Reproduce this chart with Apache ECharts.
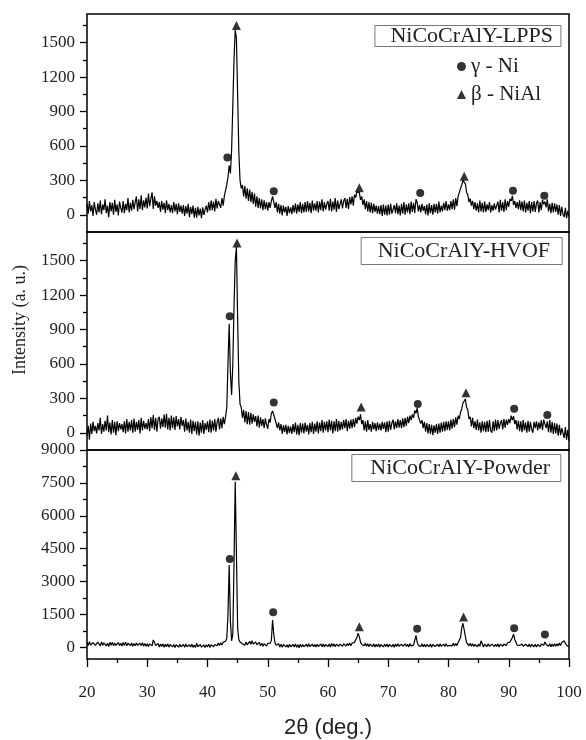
<!DOCTYPE html>
<html>
<head>
<meta charset="utf-8">
<script src="https://cdn.jsdelivr.net/npm/echarts@6/dist/echarts.min.js"></script>
<style>
  html, body { margin: 0; padding: 0; background: #fff; }
  #xrdChart { width: 586px; height: 740px; }
</style>
</head>
<body>
<div id="xrdChart"></div>
<script>
// 2theta grid of the scans: 20..100 deg, one reading every 0.2 deg
const thetaStart = 20
const thetaStep = 0.2

const panelNames = ['NiCoCrAlY-LPPS', 'NiCoCrAlY-HVOF', 'NiCoCrAlY-Powder']
const phaseNames = ['γ - Ni', 'β - NiAl']

const lppsCounts = [
  95, 10, 120, 30, 85, -10, 110, 45, 0, 100,
  20, 125, 5, 90, 40, 135, 15, 80, -20, 110,
  30, 105, 0, 130, 25, 90, -5, 115, 60, 20,
  120, 15, 95, 40, 145, 20, 105, 35, 130, 50,
  110, 160, 30, 135, 50, 170, 40, 125, 65, 150,
  55, 185, 75, 140, 195, 50, 160, 80, 120, 60,
  110, 25, 120, 45, 105, 15, 125, 40, 95, 20,
  85, 15, 110, 30, 95, 5, 100, 25, 80, 10,
  85, -10, 75, 10, 95, -20, 70, 5, 80, -25,
  60, -25, 70, -5, 55, -30, 65, 0, 45, 80,
  20, 110, 35, 125, 40, 115, 30, 140, 55, 120,
  130, 60, 145, 80, 165, 180, 260, 330, 430, 360,
  560, 950, 1350, 1610, 1540, 1050, 550, 300, 230, 260,
  160, 250, 140, 230, 120, 220, 110, 200, 95, 185,
  70, 160, 60, 145, 55, 135, 40, 125, 50, 110,
  35, 110, 60, 120, 160, 175, 60, 110, 20, 95,
  10, 85, -5, 80, 20, 70, -10, 75, 15, 65,
  5, 85, 20, 100, 10, 90, 25, 110, 15, 95,
  20, 110, 25, 120, 30, 105, 15, 125, 35, 100,
  35, 120, 20, 115, 40, 135, 30, 110, 45, 95,
  120, 35, 140, 30, 115, 45, 145, 25, 125, 50,
  40, 135, 55, 120, 145, 60, 140, 50, 155, 90,
  160, 80, 175, 150, 200, 185, 195, 130, 160, 85,
  135, 50, 120, 30, 110, 20, 105, 15, 95, 25,
  80, 10, 75, 5, 85, -10, 90, 0, 80, -5,
  90, 0, 95, 10, -5, 85, 15, 100, 5, 80,
  -5, 95, 10, 110, 0, 90, 20, 100, 5, 115,
  25, 105, 15, 135, 110, 30, 85, 20, 95, 35,
  75, 5, 90, -5, 100, 15, 85, 0, 95, 20,
  95, 10, 115, 20, 80, 30, 105, 40, 120, 35,
  90, 40, 120, 50, 135, 45, 145, 75, 160, 150,
  230, 260, 300, 295, 270, 195, 175, 110, 140, 80,
  120, 50, 110, 35, 100, 20, 125, 30, 105, 20,
  115, 25, 90, 40, 110, 20, 85, 35, 100, 45,
  30, 115, 20, 130, 35, 110, 25, 135, 40, 120,
  70, 140, 120, 165, 85, 120, 60, 110, 50, 125,
  40, 115, 30, 125, 20, 105, 35, 120, 15, 110,
  30, 120, 25, 100, 125, 20, 110, 40, 130, 90,
  115, 65, 135, 30, 95, 15, 105, 20, 100, 25,
  90, 0, 85, -10, 70, 5, -20, 60, -30, 35,
  -15
]

const hvofCounts = [
  -30, 60, -60, 80, -10, 95, 15, 60, -5, 85,
  20, 130, -10, 75, 10, 105, 20, 150, 5, 90,
  -15, 110, 0, 95, -20, 100, 15, 85, 30, 75,
  5, 100, -5, 120, 10, 95, 20, 110, 0, 125,
  10, 95, 25, 110, -5, 130, 20, 105, 35, 85,
  30, 120, 15, 135, 40, 155, 25, 130, 10, 120,
  140, 35, 125, 50, 160, 45, 165, 30, 130, 20,
  150, 40, 135, 25, 145, 55, 120, 30, 140, 60,
  110, 10, 125, 20, 95, 0, 115, -10, 105, 15,
  95, -15, 100, -25, 90, 0, 110, -10, 85, 25,
  100, 5, 115, 0, 105, 20, 120, 10, 95, 130,
  30, 125, 40, 140, 75, 140, 220, 600, 950, 520,
  330, 600, 1100, 1500, 1620, 1000, 450, 250, 220, 130,
  200, 90, 190, 75, 180, 70, 175, 80, 160, 95,
  145, 55, 150, 45, 135, 60, 120, 40, 125, 70,
  35, 120, 90, 170, 190, 205, 120, 120, 40, 90,
  20, 75, -10, 65, 5, 70, -15, 60, 0, 55,
  -10, 75, 5, 90, -15, 70, -20, 85, 0, 80,
  -5, 90, 10, 70, -15, 85, 5, 95, -10, 80,
  10, 100, -5, 90, 15, 110, 0, 95, 20, 100,
  5, 115, 20, 105, -5, 100, 15, 120, 10, 105,
  20, 95, 30, 110, 40, 120, 15, 105, 35, 115,
  40, 120, 50, 130, 80, 140, 110, 160, 75, 110,
  20, 100, 10, 110, 25, 75, 10, 95, 30, 85,
  15, 90, 25, 80, 20, 95, 35, 90, 5, 100,
  10, 105, 25, 85, 115, 30, 100, 40, 120, 45,
  110, 40, 125, 50, 130, 60, 140, 85, 150, 110,
  160, 130, 195, 170, 215, 140, 150, 80, 110, 40,
  95, 10, 85, -5, 75, -10, 70, -20, 65, 0,
  75, -10, 80, 0, 90, 10, 95, 15, 100, 25,
  100, 20, 115, 35, 120, 50, 135, 70, 150, 120,
  180, 210, 260, 250, 295, 220, 200, 120, 140, 55,
  130, 40, 100, 25, 115, 20, 90, 0, 100, 15,
  95, 5, 105, 10, 110, 20, 0, 100, 15, 115,
  20, 110, 35, 85, 110, 30, 120, 45, 115, 70,
  120, 85, 150, 110, 145, 75, 110, 30, 105, 15,
  100, 5, 110, 20, 90, 0, 105, 10, 95, 30,
  0, 95, 40, 100, 20, 90, 35, 110, 25, 115,
  125, 40, 100, 5, 110, 0, 95, -10, 85, -5,
  80, -25, 70, -20, 40, 55, -45, 50, -60, 25,
  -70
]

const powderCounts = [
  230, 80, 260, 110, 50, 220, 270, 90, 60, 240,
  200, 60, 250, 90, 210, 280, 70, 190, 40, 230,
  100, 240, 70, 200, 90, 30, 220, 80, 190, 60,
  220, 90, 240, 70, 190, 230, 80, 200, 50, 180,
  70, 200, 90, 40, 190, 80, 210, 60, 180, 50,
  170, 40, 160, 200, 70, 340, 230, 80, 50, 180,
  20, 150, 40, 170, 0, 140, 30, 160, 10, 130,
  150, 20, 130, -10, 120, 160, 10, 140, 30, 0,
  130, 10, 150, 30, -20, 120, 20, 140, 0, 110,
  -10, 190, 20, -20, 130, 10, -40, 110, 0, 120,
  20, 140, 0, 120, 160, 30, 130, 180, 70, 200,
  90, 210, 110, 240, 190, 280, 420, 1500, 3750, 1200,
  300, 600, 3800, 7550, 4300, 900, 350, 250, 200, 170,
  230, 100, 250, 110, 170, 270, 140, 300, 150, 200,
  250, 120, 180, 230, 70, 190, 50, 170, 200, 60,
  180, 140, 190, 320, 1250, 600, 200, 100, 60, 170,
  20, 140, 0, 130, 160, 20, 120, -10, 140, 30,
  0, 130, 20, 150, 10, 120, -20, 140, 20, 130,
  30, 0, 140, 20, 170, 40, 10, 150, 30, 130,
  20, 140, 40, 0, 150, 30, 160, 20, 130, 170,
  40, 150, 20, 180, 50, 160, 30, 140, 170, 50,
  150, 190, 50, 170, 210, 60, 180, 80, 200, 70,
  190, 140, 240, 220, 450, 650, 480, 240, 130, 190,
  70, 190, 50, 170, 30, 150, 180, 40, 160, 20,
  140, 30, 160, 10, 130, 170, 20, 140, 40, 150,
  20, 130, 160, 30, 140, 10, 150, 40, 170, 50,
  30, 150, 50, 10, 160, 40, 140, 20, 170, 70,
  130, 100, 180, 550, 240, 90, 150, 40, 160, 30,
  140, 20, 130, 170, 30, 150, 10, 130, 160, 40,
  20, 140, 30, 160, 50, 10, 150, 40, 170, 60,
  130, 90, 170, 70, 190, 60, 180, 80, 220, 240,
  450, 900, 1100, 1080, 500, 220, 190, 70, 190, 50,
  160, 40, 140, 180, 30, 150, 50, 300, 170, 20,
  140, 180, 40, 160, 50, 20, 150, 170, 30, 140,
  40, 160, 20, 140, 170, 50, 150, 190, 80, 210,
  120, 240, 280, 450, 600, 350, 240, 100, 150, 90,
  30, 150, 50, 10, 140, 170, 40, 150, 20, 130,
  160, 30, 140, 20, 130, 170, 40, 150, 190, 100,
  250, 130, 160, 50, 170, 30, 150, 40, 160, 50,
  170, 60, 200, 80, 220, 240, 300, 180, 190, 40,
  60
]

// peak markers (position, height of the symbol)
const lppsNiTheta = [43.3, 51.0, 75.3, 90.7, 95.9]
const lppsNiMark = [500, 205, 190, 210, 165]
const lppsAlTheta = [44.8, 65.2, 82.6]
const lppsAlMark = [1650, 235, 335]

const hvofNiTheta = [43.7, 51.0, 74.9, 90.9, 96.4]
const hvofNiMark = [1015, 265, 250, 210, 155]
const hvofAlTheta = [44.9, 65.5, 82.9]
const hvofAlMark = [1655, 225, 350]

const powderNiTheta = [43.7, 50.9, 74.8, 90.9, 96.0]
const powderNiMark = [4030, 1600, 845, 870, 585]
const powderAlTheta = [44.7, 65.2, 82.5]
const powderAlMark = [7830, 945, 1380]

// y ticks of each panel
const lowMajorTicks = [0, 300, 600, 900, 1200, 1500]
const lowMinorTicks = [150, 450, 750, 1050, 1350, 1650]
const powderMajorTicks = [0, 1500, 3000, 4500, 6000, 7500, 9000]
const powderMinorTicks = [750, 2250, 3750, 5250, 6750, 8250]

const serif = 'Liberation Serif'
const inkColor = '#000'
const labelColor = '#222'

function toPoints (counts) {
  return counts.map((v, i) => [+(thetaStart + i * thetaStep).toFixed(1), v])
}

function pairUp (thetas, marks) {
  return thetas.map((t, i) => [t, marks[i]])
}

const panels = [
  { top: 14, height: 218, min: -150, max: 1750, major: lowMajorTicks, minor: lowMinorTicks,
    counts: lppsCounts, ni: pairUp(lppsNiTheta, lppsNiMark), al: pairUp(lppsAlTheta, lppsAlMark) },
  { top: 232, height: 218, min: -150, max: 1750, major: lowMajorTicks, minor: lowMinorTicks,
    counts: hvofCounts, ni: pairUp(hvofNiTheta, hvofNiMark), al: pairUp(hvofAlTheta, hvofAlMark) },
  { top: 450, height: 219, min: -530, max: 9000, major: powderMajorTicks, minor: powderMinorTicks,
    counts: powderCounts, ni: pairUp(powderNiTheta, powderNiMark), al: pairUp(powderAlTheta, powderAlMark) }
]

const grid = []
const xAxis = []
const yAxis = []
const series = []

panels.forEach((p, k) => {
  const isBottom = k === panels.length - 1
  grid.push({
    left: 87,
    right: 17,
    top: p.top,
    height: p.height,
    show: true,
    borderColor: inkColor,
    borderWidth: 1.5
  })
  xAxis.push({
    type: 'value',
    gridIndex: k,
    min: 20,
    max: 100,
    interval: 10,
    name: isBottom ? '2θ (deg.)' : '',
    nameLocation: 'middle',
    nameGap: 58,
    nameTextStyle: { fontFamily: 'Liberation Sans', fontSize: 22, color: labelColor },
    axisLine: { show: false, onZero: false },
    axisTick: { show: isBottom, inside: false, length: 8, lineStyle: { color: inkColor, width: 1.3 } },
    minorTick: { show: isBottom, splitNumber: 2, length: 4, lineStyle: { color: inkColor, width: 1.3 } },
    axisLabel: { show: isBottom, margin: 25, fontFamily: serif, fontSize: 17, color: labelColor },
    splitLine: { show: false }
  })
  // labelled major ticks
  yAxis.push({
    type: 'value',
    gridIndex: k,
    position: 'left',
    min: p.min,
    max: p.max,
    axisLine: { show: false, onZero: false },
    axisTick: { show: true, length: 7, customValues: p.major, lineStyle: { color: inkColor, width: 1.3 } },
    axisLabel: {
      show: true,
      margin: 12,
      customValues: p.major,
      formatter: v => String(v),
      fontFamily: serif,
      fontSize: 17,
      color: labelColor
    },
    splitLine: { show: false }
  })
  // short minor ticks
  yAxis.push({
    type: 'value',
    gridIndex: k,
    position: 'left',
    min: p.min,
    max: p.max,
    axisLine: { show: false, onZero: false },
    axisTick: { show: true, length: 4, customValues: p.minor, lineStyle: { color: inkColor, width: 1.3 } },
    axisLabel: { show: false },
    splitLine: { show: false }
  })
  series.push({
    type: 'line',
    xAxisIndex: k,
    yAxisIndex: k * 2,
    data: toPoints(p.counts),
    showSymbol: false,
    silent: true,
    lineStyle: { color: inkColor, width: 1.2 },
    z: 2
  })
  series.push({
    type: 'scatter',
    name: phaseNames[0],
    xAxisIndex: k,
    yAxisIndex: k * 2,
    data: p.ni,
    symbol: 'circle',
    symbolSize: 8,
    itemStyle: { color: inkColor },
    z: 3
  })
  series.push({
    type: 'scatter',
    name: phaseNames[1],
    xAxisIndex: k,
    yAxisIndex: k * 2,
    data: p.al,
    symbol: 'triangle',
    symbolSize: 9,
    itemStyle: { color: inkColor },
    z: 3
  })
})

const boxStyle = {
  borderColor: '#777',
  borderWidth: 1,
  backgroundColor: '#fff',
  textStyle: { fontFamily: serif, fontSize: 22, fontWeight: 'normal', color: labelColor }
}

const chart = echarts.init(document.getElementById('xrdChart'))

chart.setOption({
  animation: false,
  title: [
    Object.assign({ text: panelNames[0], right: 25, top: 25, padding: [0, 8, 0, 16] }, boxStyle),
    Object.assign({ text: panelNames[1], right: 24, top: 237, padding: [3, 12, 3, 17] }, boxStyle),
    Object.assign({ text: panelNames[2], right: 25, top: 454, padding: [3, 11, 3, 19] }, boxStyle)
  ],
  legend: {
    data: phaseNames,
    orient: 'vertical',
    left: 457,
    top: 56,
    padding: 0,
    itemGap: 7,
    itemWidth: 9,
    itemHeight: 9,
    selectedMode: false,
    textStyle: { fontFamily: serif, fontSize: 21, color: labelColor }
  },
  graphic: [{
    type: 'text',
    x: 20,
    y: 320,
    rotation: Math.PI / 2,
    style: {
      text: 'Intensity (a. u.)',
      font: '18px "Liberation Serif"',
      fill: labelColor,
      textAlign: 'center',
      textVerticalAlign: 'middle'
    }
  }],
  grid: grid,
  xAxis: xAxis,
  yAxis: yAxis,
  series: series
})
</script>
</body>
</html>
